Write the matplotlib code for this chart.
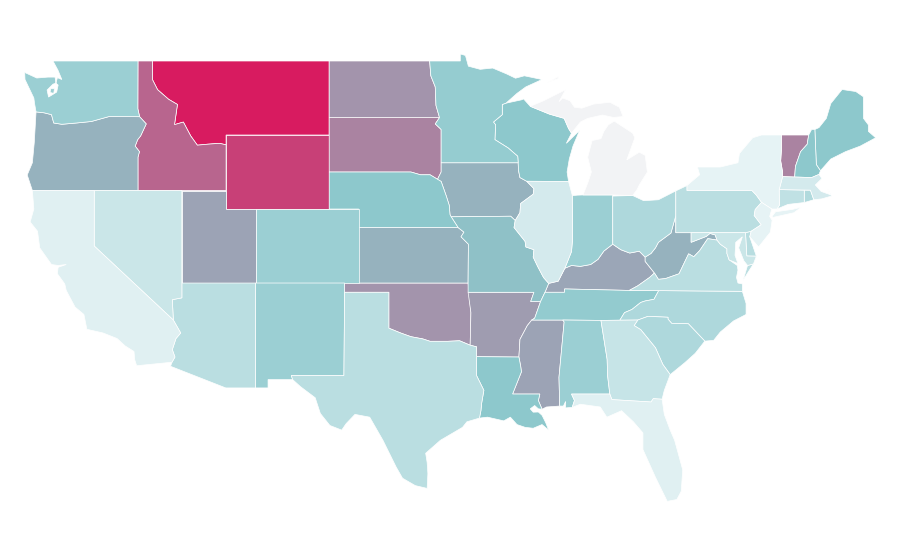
#!/usr/bin/env python3
"""US states choropleth, plate carree, outlines in lon/lat."""
import numpy as np
import matplotlib
matplotlib.use('Agg')
import matplotlib.pyplot as plt
from matplotlib.colors import LinearSegmentedColormap, Normalize

# state values, read from the fill colours (Michigan has no data)
states = ['MT', 'WY', 'ID', 'SD', 'VT', 'ND', 'OK', 'AR', 'UT', 'MS', 'KY', 'OR', 'IA', 'KS', 'WV',
          'MO', 'NE', 'LA', 'ME', 'WI', 'NH', 'TN', 'MN', 'WA', 'CO', 'NM', 'IN', 'AL', 'OH', 'NC',
          'SC', 'RI', 'DE', 'TX', 'AZ', 'PA', 'VA', 'CT', 'GA', 'NV', 'MD', 'IL', 'MA', 'CA', 'FL',
          'NY', 'NJ', 'MI']
values = [100, 85, 70, 58, 58, 51, 51, 48, 45, 45, 44, 39, 39, 39, 39,
          33, 30, 30, 30, 30, 30, 28, 27, 25, 25, 25, 25, 25, 19, 19,
          19, 18, 16, 15, 15, 15, 15, 13, 11, 10, 10, 7, 7, 3, 3,
          1, 1, np.nan]

# state outlines (lon, lat), one or more rings per state
outlines = {
    'WA': [[(-122.8, 49), (-117.03, 49), (-117.04, 46.42), (-116.92, 45.99), (-118.98, 46), (-119.3, 45.93),
            (-120.2, 45.73), (-121.2, 45.65), (-122.2, 45.58), (-122.75, 45.65), (-122.9, 46.1), (-123.4, 46.2),
            (-123.95, 46.25), (-124.05, 46.7), (-124.1, 47), (-124.4, 47.5), (-124.7, 48), (-124.72, 48.38),
            (-123.9, 48.08), (-123.14, 48.13), (-122.66, 48.13), (-122.6, 47.8), (-122.8, 47.75), (-123.2, 47.43),
            (-123.1, 47.05), (-122.55, 47.32), (-122.45, 47.7), (-122.6, 47.8), (-122.5, 48.1), (-122.2, 48),
            (-122.46, 48.5)],
           [(-122.95, 47.5), (-123, 47.3), (-122.75, 47.25), (-122.7, 47.5)]],
    'OR': [[(-116.92, 45.99), (-116.47, 45.6), (-116.85, 44.95), (-117.05, 44.75), (-117.22, 44.4), (-116.93, 44.1),
            (-117.03, 43.8), (-117.03, 42), (-124.2, 42), (-124.55, 42.84), (-124.2, 43.5), (-124.07, 44.6),
            (-123.95, 46.25), (-123.4, 46.2), (-122.9, 46.1), (-122.75, 45.65), (-122.2, 45.58), (-121.2, 45.65),
            (-120.2, 45.73), (-119.3, 45.93), (-118.98, 46)]],
    'ID': [[(-117.03, 49), (-116.05, 49), (-116.05, 48), (-115.7, 47.45), (-114.95, 46.93), (-114.35, 46.65),
            (-114.55, 45.56), (-113.95, 45.7), (-113.45, 44.95), (-113, 44.45), (-112.35, 44.5), (-111.5, 44.55),
            (-111.05, 44.47), (-111.05, 42), (-117.03, 42), (-117.03, 43.8), (-116.93, 44.1), (-117.22, 44.4),
            (-117.05, 44.75), (-116.85, 44.95), (-116.47, 45.6), (-116.92, 45.99), (-117.04, 46.42)]],
    'MT': [[(-116.05, 49), (-104.05, 49), (-104.05, 45), (-111.05, 45), (-111.05, 44.47), (-111.5, 44.55),
            (-112.35, 44.5), (-113, 44.45), (-113.45, 44.95), (-113.95, 45.7), (-114.55, 45.56), (-114.35, 46.65),
            (-114.95, 46.93), (-115.7, 47.45), (-116.05, 48)]],
    'WY': [[(-111.05, 45), (-104.05, 45), (-104.05, 41), (-111.05, 41)]],
    'ND': [[(-104.05, 49), (-97.23, 49), (-97.15, 48.2), (-96.85, 47.6), (-96.8, 46.6), (-96.56, 45.94), (-104.05, 45.94)]],
    'SD': [[(-104.05, 45.94), (-96.56, 45.94), (-96.85, 45.6), (-96.45, 45.3), (-96.45, 43), (-96.7, 42.6),
            (-96.45, 42.49), (-97.2, 42.85), (-97.85, 42.85), (-98.5, 43), (-104.05, 43)]],
    'NE': [[(-104.05, 43), (-98.5, 43), (-97.85, 42.85), (-97.2, 42.85), (-96.45, 42.49), (-96.1, 41.7), (-95.9, 41.2),
            (-95.85, 40.7), (-95.77, 40.58), (-95.3, 40), (-102.05, 40), (-102.05, 41), (-104.05, 41)]],
    'CO': [[(-109.05, 41), (-102.05, 41), (-102.05, 37), (-109.05, 37)]],
    'KS': [[(-102.05, 40), (-95.3, 40), (-94.9, 39.75), (-95.1, 39.5), (-94.6, 39.1), (-94.62, 37), (-102.05, 37)]],
    'UT': [[(-114.05, 42), (-111.05, 42), (-111.05, 41), (-109.05, 41), (-109.05, 37), (-114.05, 37)]],
    'NV': [[(-120, 42), (-114.05, 42), (-114.05, 36.2), (-114.7, 36.1), (-114.63, 35), (-120, 39)]],
    'CA': [[(-124.2, 42), (-120, 42), (-120, 39), (-114.63, 35), (-114.13, 34.3), (-114.45, 34), (-114.7, 33.4),
            (-114.52, 33), (-114.72, 32.72), (-117.12, 32.53), (-117.25, 32.85), (-117.3, 33.3), (-117.9, 33.6), (-118.45, 34),
            (-119.4, 34.3), (-120.5, 34.5), (-120.7, 35.3), (-121.3, 35.7), (-121.9, 36.6), (-122, 36.95), (-122.5, 37.5),
            (-122.45, 37.85), (-121.9, 38), (-122.45, 37.95), (-122.9, 38), (-123.7, 38.9), (-123.85, 39.8),
            (-124.35, 40.3), (-124.1, 41)]],
    'AZ': [[(-114.05, 37), (-109.05, 37), (-109.05, 31.33), (-111.07, 31.33), (-114.82, 32.5), (-114.72, 32.72),
            (-114.52, 33), (-114.7, 33.4), (-114.45, 34), (-114.13, 34.3), (-114.63, 35), (-114.7, 36.1), (-114.05, 36.2)]],
    'NM': [[(-109.05, 37), (-103, 37), (-103.05, 32), (-106.62, 32), (-106.53, 31.78), (-108.2, 31.78), (-108.2, 31.33),
            (-109.05, 31.33)]],
    'OK': [[(-103, 37), (-94.62, 37), (-94.43, 35.4), (-94.48, 33.64), (-95.2, 33.88), (-96, 33.85), (-96.6, 33.85),
            (-97.2, 33.85), (-97.7, 33.98), (-98.5, 34.1), (-99.2, 34.3), (-100, 34.56), (-100, 36.5), (-103, 36.5)]],
    'TX': [[(-103, 36.5), (-100, 36.5), (-100, 34.56), (-99.2, 34.3), (-98.5, 34.1), (-97.7, 33.98), (-97.2, 33.85),
            (-96.6, 33.85), (-96, 33.85), (-95.2, 33.88), (-94.48, 33.64), (-94.04, 33.55), (-94.04, 31.99),
            (-93.55, 31.2), (-93.7, 30.5), (-93.75, 30.1), (-93.85, 29.7), (-94.7, 29.5), (-95, 29.2), (-96.5, 28.5),
            (-97.5, 27.8), (-97.4, 27.3), (-97.35, 26.7), (-97.4, 25.9), (-98.2, 26.05), (-99.07, 26.45), (-99.5, 27.05),
            (-100.4, 28.5), (-101.3, 29.75), (-102.3, 29.9), (-102.9, 29.4), (-103.2, 29.05),
            (-104, 29.3), (-104.65, 29.95), (-105, 30.8), (-106, 31.4), (-106.53, 31.78), (-106.62, 32), (-103.05, 32)]],
    'MN': [[(-97.23, 49), (-95.15, 49), (-95.15, 49.38), (-94.8, 49.3), (-94.6, 48.72), (-93.8, 48.55), (-92.95, 48.62),
            (-92, 48.3), (-91.4, 48.07), (-90.8, 48.2), (-89.6, 48), (-90.7, 47.6), (-91.3, 47.25), (-92.05, 46.72),
            (-92.3, 46.65), (-92.3, 46.1), (-92.9, 45.7), (-92.75, 45.55), (-92.8, 44.75), (-91.9, 44.3), (-91.25, 43.85),
            (-91.22, 43.5), (-96.45, 43.5), (-96.45, 45.3), (-96.85, 45.6), (-96.56, 45.94), (-96.8, 46.6), (-96.85, 47.6),
            (-97.15, 48.2)]],
    'WI': [[(-92.05, 46.72), (-91, 46.9), (-90.85, 46.95), (-90.4, 46.55), (-89.1, 46.13), (-88.1, 45.9), (-87.8, 45.35),
            (-87.6, 45.1), (-87.95, 44.55), (-87.05, 45.25), (-87.5, 44.4), (-87.75, 43.7), (-87.9, 43), (-87.8, 42.49),
            (-90.64, 42.5), (-91.1, 42.7), (-91.2, 43.1), (-91.22, 43.5), (-91.25, 43.85), (-91.9, 44.3), (-92.8, 44.75),
            (-92.75, 45.55), (-92.9, 45.7), (-92.3, 46.1), (-92.3, 46.65)]],
    'IA': [[(-96.45, 43.5), (-91.22, 43.5), (-91.2, 43.1), (-91.1, 42.7), (-90.64, 42.5), (-90.15, 42.1), (-90.2, 41.8),
            (-91.05, 41.3), (-91.1, 40.8), (-91.42, 40.38), (-91.73, 40.61), (-95.77, 40.58), (-95.85, 40.7), (-95.9, 41.2),
            (-96.1, 41.7), (-96.45, 42.49), (-96.7, 42.6), (-96.45, 43)]],
    'MO': [[(-95.77, 40.58), (-91.73, 40.61), (-91.42, 40.38), (-91.5, 40), (-90.75, 39.25), (-90.7, 38.95), (-90.15, 38.8),
            (-90.2, 38.4), (-89.9, 37.9), (-89.5, 37.3), (-89.15, 36.98), (-89.4, 36.5), (-89.7, 36), (-90.37, 36),
            (-90.15, 36.5), (-94.62, 36.5), (-94.62, 37), (-94.6, 39.1), (-95.1, 39.5), (-94.9, 39.75), (-95.3, 40)]],
    'AR': [[(-94.62, 36.5), (-90.15, 36.5), (-90.37, 36), (-89.7, 36), (-90.1, 35.1), (-90.3, 35), (-90.6, 34.7), (-91.1, 33.95),
            (-91.17, 33), (-94.04, 33.02), (-94.04, 33.55), (-94.48, 33.64), (-94.43, 35.4), (-94.62, 36.5)]],
    'LA': [[(-94.04, 33.02), (-91.17, 33), (-91.05, 32.5), (-91, 32.2), (-91.6, 31), (-89.75, 31), (-89.85, 30.65),
            (-89.6, 30.18), (-89.85, 30.2), (-90.1, 30.38), (-90.4, 30.2), (-90.2, 30.02), (-89.85, 30.03), (-89.6, 29.85),
            (-89.35, 29.45), (-89.15, 29.05), (-89.6, 29.35), (-90.2, 29.15), (-90.75, 29.2), (-91.3, 29.35), (-91.75, 29.75),
            (-92.2, 29.55), (-93.3, 29.75), (-93.85, 29.7), (-93.75, 30.1), (-93.7, 30.5), (-93.55, 31.2), (-94.04, 31.99)]],
    'MS': [[(-90.3, 35), (-88.2, 35), (-88.1, 34.9), (-88.45, 31.9), (-88.4, 30.35), (-89.3, 30.3), (-89.6, 30.18),
            (-89.85, 30.65), (-89.75, 31), (-91.6, 31), (-91, 32.2), (-91.05, 32.5), (-91.17, 33), (-91.1, 33.95), (-90.6, 34.7)]],
    'TN': [[(-90.3, 35), (-88.2, 35), (-85.6, 34.98), (-84.32, 34.99), (-84, 35.4), (-83.5, 35.57), (-82.9, 35.95),
            (-82.6, 36.03), (-82, 36.12), (-81.68, 36.59), (-83.68, 36.6), (-88.07, 36.68), (-88.07, 36.5), (-89.4, 36.5),
            (-89.7, 36), (-90.1, 35.1)]],
    'KY': [[(-89.4, 36.5), (-88.07, 36.5), (-88.07, 36.68), (-83.68, 36.6), (-83.1, 36.85), (-82.3, 37.3), (-81.97, 37.54),
            (-82.6, 38.17), (-82.6, 38.4), (-83, 38.72), (-83.65, 38.62), (-84.25, 38.8), (-84.8, 39.1), (-85.4, 38.73),
            (-85.8, 38.28), (-86.3, 38), (-87, 37.9), (-87.6, 37.95), (-88.05, 37.8), (-88.5, 37.1), (-89.15, 36.98)]],
    'IL': [[(-90.64, 42.5), (-87.8, 42.49), (-87.55, 41.75), (-87.53, 39.35), (-87.6, 38.7), (-88.05, 37.8), (-88.5, 37.1),
            (-89.15, 36.98), (-89.5, 37.3), (-89.9, 37.9), (-90.2, 38.4), (-90.15, 38.8), (-90.7, 38.95), (-90.75, 39.25),
            (-91.5, 40), (-91.42, 40.38), (-91.1, 40.8), (-91.05, 41.3), (-90.2, 41.8), (-90.15, 42.1)]],
    'IN': [[(-87.55, 41.72), (-87.2, 41.75), (-86.82, 41.76), (-84.8, 41.76), (-84.8, 39.1), (-85.4, 38.73), (-85.8, 38.28),
            (-86.3, 38), (-87, 37.9), (-87.6, 37.95), (-88.05, 37.8), (-87.6, 38.7), (-87.53, 39.35)]],
    'OH': [[(-84.8, 41.7), (-83.45, 41.73), (-82.7, 41.45), (-81.7, 41.5), (-80.52, 41.98), (-80.52, 40.64), (-80.85, 39.7),
            (-81.7, 39.2), (-81.9, 38.9), (-82.2, 38.6), (-82.6, 38.4), (-83, 38.72), (-83.65, 38.62), (-84.25, 38.8), (-84.8, 39.1)]],
    'MI': [[(-86.82, 41.76), (-84.8, 41.76), (-83.45, 41.73), (-83.15, 42.05), (-83, 42.3), (-82.45, 43), (-82.6, 43.9),
            (-83, 44.07), (-83.85, 43.65), (-83.3, 44.85), (-83.45, 45.1), (-84.7, 45.75), (-85.1, 45.55), (-85.4, 45.2),
            (-85.6, 44.8), (-86.2, 44.7), (-86.5, 43.8), (-86.25, 43), (-86.5, 42.4)],
           [(-90.4, 46.55), (-89.1, 46.13), (-88.1, 45.9), (-87.8, 45.35), (-87.6, 45.1), (-87, 45.7), (-86.5, 45.9), (-85.5, 46.08),
            (-84.75, 45.95), (-84.1, 46), (-84.35, 46.5), (-85, 46.77), (-86.1, 46.67), (-86.9, 46.45), (-87.4, 46.5), (-87.7, 46.85),
            (-88.2, 47), (-88.45, 46.8), (-88, 47.45), (-89.5, 46.85)],
           [(-89.2, 47.85), (-88.5, 48.15), (-88.5, 48.05)]],
    'GA': [[(-85.6, 34.98), (-83.1, 35), (-83.35, 34.7), (-82.9, 34.48), (-81.9, 33.5), (-81.4, 32.6), (-80.9, 32.05), (-81.3, 31.2),
            (-81.45, 30.72), (-82.05, 30.75), (-82.2, 30.57), (-84.86, 30.7), (-85, 31), (-85.15, 32), (-85.18, 32.87)]],
    'SC': [[(-83.1, 35), (-82.4, 35.2), (-81.05, 35.15), (-81.05, 35.05), (-80.8, 34.82), (-79.67, 34.8), (-78.55, 33.86), (-79.2, 33.2),
            (-79.9, 32.7), (-80.9, 32.05), (-81.4, 32.6), (-81.9, 33.5), (-82.9, 34.48), (-83.35, 34.7)]],
    'NC': [[(-84.32, 34.99), (-83.1, 35), (-82.4, 35.2), (-81.05, 35.15), (-81.05, 35.05), (-80.8, 34.82), (-79.67, 34.8), (-78.55, 33.86),
            (-77.95, 33.9), (-77.5, 34.35), (-76.6, 34.95), (-75.75, 35.3), (-75.75, 35.9), (-76, 36.55), (-81.68, 36.59),
            (-82, 36.12), (-82.6, 36.03), (-82.9, 35.95), (-83.5, 35.57), (-84, 35.4)]],
    'VA': [[(-83.68, 36.6), (-81.68, 36.59), (-76, 36.55), (-76, 36.95), (-76.3, 37), (-76.4, 37.3), (-76.3, 37.7), (-76.35, 37.95),
            (-76.9, 38.25), (-77.05, 38.6), (-77.05, 38.85), (-77.5, 39.1), (-77.72, 39.32), (-78.35, 39.4), (-78.9, 38.75), (-79.3, 38.42),
            (-79.65, 38.58), (-80.3, 37.5), (-81.22, 37.24), (-81.7, 37.2), (-81.97, 37.54), (-82.3, 37.3), (-83.1, 36.85)],
           [(-75.95, 37.15), (-75.6, 37.6), (-75.25, 38.03), (-75.65, 37.95)]],
    'WV': [[(-82.6, 38.17), (-81.97, 37.54), (-81.7, 37.2), (-81.22, 37.24), (-80.3, 37.5), (-79.65, 38.58), (-79.3, 38.42), (-78.9, 38.75),
            (-78.35, 39.4), (-77.72, 39.32), (-77.85, 39.6), (-78.2, 39.68), (-78.45, 39.52), (-79.48, 39.2), (-79.48, 39.72), (-80.52, 39.72),
            (-80.52, 40.64), (-80.85, 39.7), (-81.7, 39.2), (-81.9, 38.9), (-82.2, 38.6), (-82.6, 38.4)]],
    'PA': [[(-80.52, 41.98), (-79.76, 42.27), (-79.76, 42), (-75.35, 42), (-75.05, 41.75), (-74.7, 41.36), (-75.13, 40.97), (-75.2, 40.65),
            (-74.72, 40.15), (-75.4, 39.8), (-75.79, 39.72), (-80.52, 39.72)]],
    'NY': [[(-79.76, 42), (-79.76, 42.27), (-78.9, 42.85), (-79.05, 43.27), (-77.5, 43.27), (-76.3, 43.5), (-76.2, 44), (-75.3, 44.85),
            (-74.7, 45), (-73.35, 45), (-73.35, 44.2), (-73.4, 43.6), (-73.27, 43), (-73.27, 42.75), (-73.5, 42.05), (-73.49, 41.2), (-73.65, 41),
            (-74, 41), (-74.7, 41.36), (-75.05, 41.75), (-75.35, 42)],
           [(-74, 40.58), (-73.75, 40.85), (-72.6, 40.98), (-72, 41.1), (-72.5, 40.8), (-73.9, 40.55)]],
    'NJ': [[(-74.7, 41.36), (-74, 41), (-74.15, 40.6), (-73.98, 40.4), (-74.1, 39.75), (-74.9, 38.95), (-75.5, 39.5), (-75.4, 39.8),
            (-74.72, 40.15), (-75.2, 40.65), (-75.13, 40.97)]],
    'DE': [[(-75.79, 39.72), (-75.4, 39.8), (-75.5, 39.5), (-75.05, 38.45), (-75.7, 38.46)]],
    'MD': [[(-79.48, 39.72), (-75.79, 39.72), (-75.7, 38.46), (-75.05, 38.45), (-75.25, 38.03), (-75.65, 37.95), (-75.9, 38.2), (-76.25, 38.9),
            (-76, 39.5), (-76.45, 39.2), (-76.5, 38.5), (-76.3, 38.05), (-76.9, 38.25), (-77.05, 38.6), (-77.05, 38.85), (-77.5, 39.1), (-77.72, 39.32),
            (-77.85, 39.6), (-78.2, 39.68), (-78.45, 39.52), (-79.48, 39.2)]],
    'CT': [[(-73.5, 42.05), (-71.8, 42.02), (-71.8, 41.35), (-72.9, 41.25), (-73.65, 41), (-73.49, 41.2)]],
    'RI': [[(-71.8, 42.02), (-71.38, 42.02), (-71.15, 41.5), (-71.8, 41.35)]],
    'MA': [[(-73.27, 42.75), (-71.3, 42.7), (-70.8, 42.87), (-70.6, 42.65), (-71.05, 42.3), (-70.65, 41.95), (-70.05, 41.78), (-70.2, 42.07),
            (-69.95, 41.7), (-70.6, 41.55), (-71.15, 41.5), (-71.38, 42.02), (-73.5, 42.05)]],
    'VT': [[(-73.35, 45), (-71.5, 45), (-71.6, 44.5), (-72.05, 44.1), (-72.4, 43.3), (-72.45, 42.73), (-73.27, 42.75), (-73.27, 43), (-73.4, 43.6),
            (-73.35, 44.2)]],
    'NH': [[(-71.5, 45), (-71.3, 45.3), (-71.08, 45.3), (-70.98, 43.4), (-70.7, 43.07), (-70.8, 42.87), (-71.3, 42.7), (-72.45, 42.73),
            (-72.4, 43.3), (-72.05, 44.1), (-71.6, 44.5)]],
    'ME': [[(-71.08, 45.3), (-70.8, 45.4), (-70.3, 45.9), (-70, 46.7), (-69.23, 47.46), (-68.3, 47.35), (-67.79, 47.07), (-67.78, 45.9),
            (-67.45, 45.55), (-67.45, 45.2), (-66.95, 44.85), (-68, 44.4), (-69, 44.1), (-70, 43.7), (-70.7, 43.07), (-70.98, 43.4)]],
    'AL': [[(-88.2, 35), (-85.6, 34.98), (-85.18, 32.87), (-85.15, 32), (-85, 31), (-87.6, 31), (-87.4, 30.65), (-87.55, 30.28), (-88, 30.25),
            (-88, 30.6), (-88.15, 30.35), (-88.4, 30.35), (-88.45, 31.9), (-88.1, 34.9)]],
    'FL': [[(-87.6, 31), (-85, 31), (-84.86, 30.7), (-82.2, 30.57), (-82.05, 30.75), (-81.45, 30.72), (-81.3, 29.9), (-80.9, 29.05), (-80.6, 28.5), (-80.05, 26.9),
            (-80.15, 25.75), (-80.45, 25.3), (-81.1, 25.2), (-81.9, 26.5), (-82.75, 28), (-82.75, 28.9), (-83.4, 29.5), (-84.2, 30.1),
            (-85.2, 29.75), (-85.65, 30.3), (-87, 30.45), (-87.55, 30.28), (-87.4, 30.65)]],
}

cmap = LinearSegmentedColormap.from_list('teal_crimson', [(0, '#e8f4f6'), (0.3, '#8cc8cc'), (1, '#d81b60')])
cmap.set_bad('#f2f3f5')
norm = Normalize(0, 100)

fig = plt.figure(figsize=(9, 5.6), dpi=100, facecolor='white')
ax = fig.add_axes([0, 0, 1, 1])

for state, value in zip(states, values):
    for ring in outlines[state]:
        lon, lat = zip(*ring)
        ax.fill(lon, lat, facecolor=cmap(norm(np.ma.masked_invalid(value))), edgecolor='white', lw=0.5)

# x px = 25 + (lon + 124.7) * 14.73, y px = 61 + (49 - lat) * 18.5
ax.set_xlim(-126.397, -65.30)
ax.set_ylim(22.03, 52.297)
ax.axis('off')

fig.savefig('out.png', dpi=100)
plt.close(fig)
